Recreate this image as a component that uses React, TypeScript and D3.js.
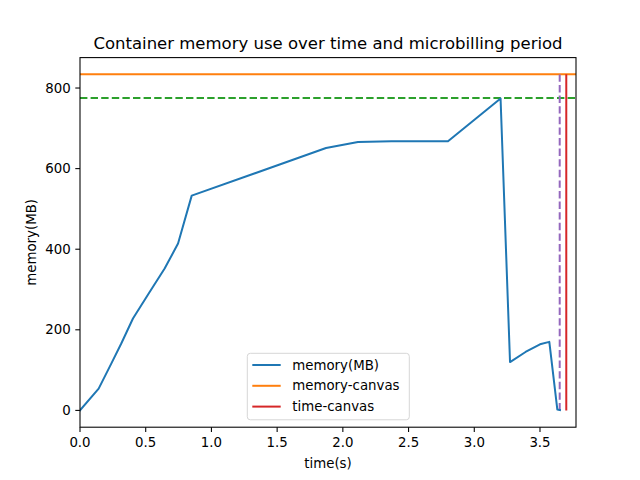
import React from "react";
import * as d3 from "d3";

const timeS = [0, 0.142, 0.238, 0.314, 0.403, 0.53, 0.644, 0.746, 0.85, 1.872, 2.115, 2.37, 2.8, 3.2, 3.272, 3.39, 3.5, 3.571, 3.632, 3.652];
const memoryMB = [0, 54, 116, 166, 228, 294, 352, 414, 533, 651, 666, 668, 668, 774, 120, 145, 164, 170, 2, 1];
const memoryCanvas = 834;
const memoryPeak = 775;
const timeCanvas = 3.7;
const billingEnd = 3.65;
const xTicks = [0, 0.5, 1.0, 1.5, 2.0, 2.5, 3.0, 3.5];
const yTicks = [0, 200, 400, 600, 800];
const legendLabels = ["memory(MB)", "memory-canvas", "time-canvas"];

const W = 640, H = 480;
const L = 80, R = 576, T = 57.6, B = 427.2;
const font = "DejaVu Sans, sans-serif";

export default function App() {
  const x = d3.scaleLinear().domain([0, 3.774]).range([L, R]);
  const y = d3.scaleLinear().domain([-41.7, 875.5]).range([B, T]);
  const line = d3.line<number>().x((_, i) => x(timeS[i])).y((d) => y(d));
  const legendColors = ["#1f77b4", "#ff7f0e", "#d62728"];
  return (
    <svg width={W} height={H} style={{ display: "block", position: "absolute", left: 0, top: 0 }} fontFamily={font}>
      <rect x={0} y={0} width={W} height={H} fill="#fff" />
      <defs>
        <clipPath id="ax">
          <rect x={L} y={T} width={R - L} height={B - T} />
        </clipPath>
      </defs>
      <g clipPath="url(#ax)">
        <line x1={L} x2={R} y1={y(memoryCanvas)} y2={y(memoryCanvas)} stroke="#ff7f0e" strokeWidth={2} />
        <line x1={L} x2={R} y1={y(memoryPeak)} y2={y(memoryPeak)} stroke="#2ca02c" strokeWidth={2} strokeDasharray="7.4 3.2" />
        <line x1={x(billingEnd)} x2={x(billingEnd)} y1={y(0)} y2={y(memoryCanvas)} stroke="#9467bd" strokeWidth={2} strokeDasharray="7.4 3.2" />
        <line x1={x(timeCanvas)} x2={x(timeCanvas)} y1={y(0)} y2={y(memoryCanvas)} stroke="#d62728" strokeWidth={2} />
        <path d={line(memoryMB) || ""} fill="none" stroke="#1f77b4" strokeWidth={2} strokeLinejoin="round" strokeLinecap="square" />
      </g>
      <rect x={L} y={T} width={R - L} height={B - T} fill="none" stroke="#000" strokeWidth={1.07} />
      {xTicks.map((t) => (
        <g key={"x" + t}>
          <line x1={x(t)} x2={x(t)} y1={B} y2={B + 4.7} stroke="#000" strokeWidth={1.07} />
          <text x={x(t)} y={B + 9.3 + 10.5} textAnchor="middle" fontSize={13.33} fill="#000">{t.toFixed(1)}</text>
        </g>
      ))}
      {yTicks.map((t) => (
        <g key={"y" + t}>
          <line x1={L} x2={L - 4.7} y1={y(t)} y2={y(t)} stroke="#000" strokeWidth={1.07} />
          <text x={L - 9.3} y={y(t)} dy="0.35em" textAnchor="end" fontSize={13.33} fill="#000">{t}</text>
        </g>
      ))}
      <text x={(L + R) / 2} y={468} textAnchor="middle" fontSize={13.33} fill="#000">time(s)</text>
      <text transform={`translate(36, ${(T + B) / 2}) rotate(-90)`} textAnchor="middle" fontSize={13.33} fill="#000">memory(MB)</text>
      <text x={(L + R) / 2} y={48.5} textAnchor="middle" fontSize={16.5} fill="#000">Container memory use over time and microbilling period</text>
      <g>
        <rect x={247.3} y={353.3} width={162} height={66.5} rx={3} fill="#fff" fillOpacity={0.8} stroke="#d6d6d6" strokeWidth={1} />
        {legendLabels.map((lab, i) => (
          <g key={lab}>
            <line x1={252.3} x2={280.7} y1={365 + i * 20.8} y2={365 + i * 20.8} stroke={legendColors[i]} strokeWidth={2} />
            <text x={292.3} y={365 + i * 20.8} dy="0.35em" fontSize={13.33} fill="#000">{lab}</text>
          </g>
        ))}
      </g>
    </svg>
  );
}
